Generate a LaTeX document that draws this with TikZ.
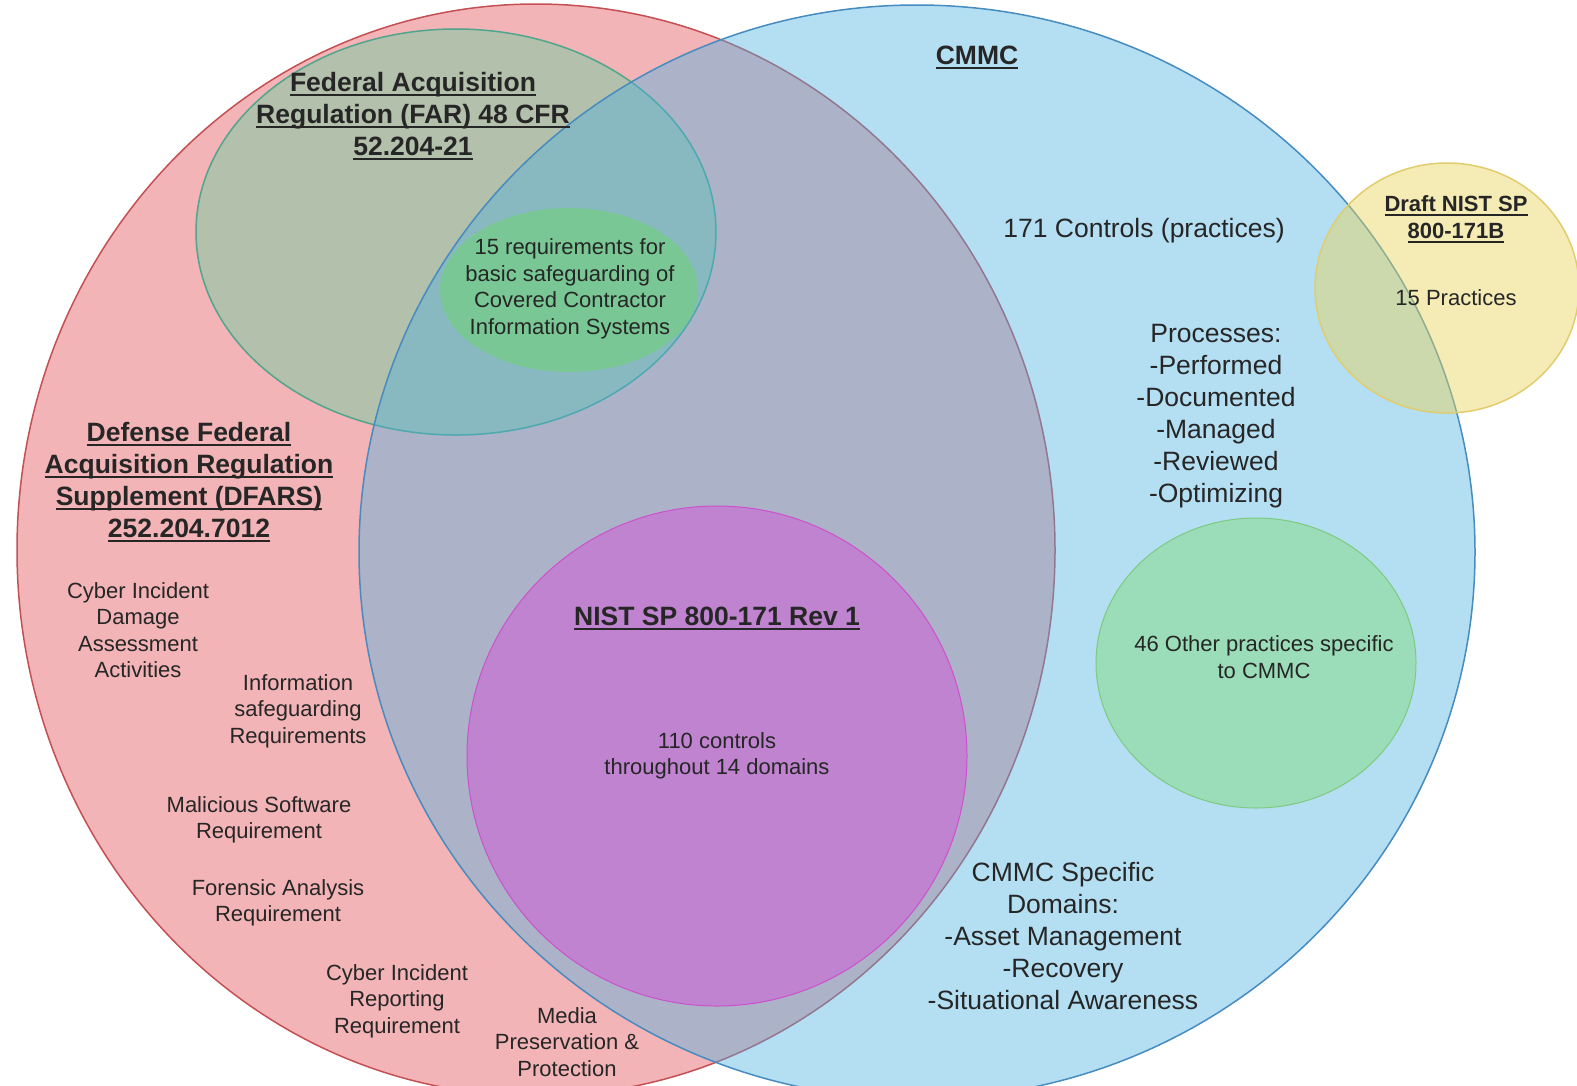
\documentclass[tikz,border=0pt]{standalone}
\usepackage{fontspec}
\setmainfont{Liberation Sans}
\definecolor{dfarsfill}{RGB}{224,76,81}
\definecolor{dfarsline}{RGB}{196,80,84}
\definecolor{cmmcfill}{RGB}{76,176,224}
\definecolor{cmmcline}{RGB}{70,140,192}
\definecolor{farfill}{RGB}{104,207,160}
\definecolor{farline}{RGB}{80,165,140}
\definecolor{reqfill}{RGB}{109,210,121}
\definecolor{nistfill}{RGB}{205,101,213}
\definecolor{nistline}{RGB}{205,80,205}
\definecolor{othfill}{RGB}{138,222,147}
\definecolor{othline}{RGB}{125,203,128}
\definecolor{draftfill}{RGB}{233,211,88}
\definecolor{draftline}{RGB}{225,205,110}
\newcommand{\ulhd}[1]{\setbox0=\hbox{#1}\rlap{\rule[-4.5pt]{\wd0}{1.8pt}}\box0}

\begin{document}
\begin{tikzpicture}[x=1pt,y=-1pt,line width=1.5pt,
        every node/.style={text=black!85,align=center,inner sep=0pt},
        big/.style={font=\fontsize{26.5}{32}\selectfont},
        bighd/.style={font=\fontsize{26.5}{32}\selectfont\bfseries},
        small/.style={font=\fontsize{22}{26.5}\selectfont},
        smallhd/.style={font=\fontsize{22}{27}\selectfont\bfseries}]
    \useasboundingbox (0,0) rectangle (1577,1085);
    \clip (0,0) rectangle (1577,1085);

    \filldraw[draw=dfarsline,fill=dfarsfill,fill opacity=.42] (536,550) ellipse [x radius=519,y radius=546];
    \filldraw[draw=farline,fill=farfill,fill opacity=.45] (456,232) ellipse [x radius=260,y radius=203];
    \filldraw[draw=cmmcline,fill=cmmcfill,fill opacity=.42] (917,552) ellipse [x radius=558,y radius=547];
    \fill[reqfill,fill opacity=.6] (569,290) ellipse [x radius=129,y radius=82];
    \filldraw[draw=nistline,fill=nistfill,fill opacity=.6,line width=1pt] (717,756) circle [radius=250];
    \filldraw[draw=othline,fill=othfill,fill opacity=.6,line width=1pt] (1256,663) ellipse [x radius=160,y radius=145];
    \filldraw[draw=draftline,fill=draftfill,fill opacity=.45] (1447,288) ellipse [x radius=132,y radius=125];

    \node[bighd] (far) at (413,116) {\ulhd{Federal Acquisition}\\\ulhd{Regulation (FAR) 48 CFR}\\\ulhd{52.204-21}};
    \node[small] (basic) at (570,289) {15 requirements for\\basic safeguarding of\\Covered Contractor\\Information Systems};
    \node[bighd] (dfars) at (189,482) {\ulhd{Defense Federal}\\\ulhd{Acquisition Regulation}\\\ulhd{Supplement (DFARS)}\\\ulhd{252.204.7012}};
    \node[small] (damage) at (138,630) {Cyber Incident\\Damage\\Assessment\\Activities};
    \node[small] (infosafe) at (298,711) {Information\\safeguarding\\Requirements};
    \node[small] (malware) at (259,820) {Malicious Software\\Requirement};
    \node[small] (forensic) at (278,903) {Forensic Analysis\\Requirement};
    \node[small] (report) at (397,1001) {Cyber Incident\\Reporting\\Requirement};
    \node[small] (media) at (567,1042) {Media\\Preservation \&\\Protection};

    \node[bighd] (nist) at (717,618) {\ulhd{NIST SP 800-171 Rev 1}};
    \node[small] (ctrl110) at (717,756) {110 controls\\throughout 14 domains};

    \node[bighd] (cmmc) at (977,57) {\ulhd{CMMC}};
    \node[big] (ctrl171) at (1144,231) {171 Controls (practices)};
    \node[big] (proc) at (1216,416) {Processes:\\-Performed\\-Documented\\-Managed\\-Reviewed\\-Optimizing};
    \node[small] (other) at (1264,657) {46 Other practices specific\\to CMMC};
    \node[big] (domains) at (1063,936) {CMMC Specific\\Domains:\\-Asset Management\\-Recovery\\-Situational Awareness};

    \node[smallhd] (draft) at (1456,219) {\ulhd{Draft NIST SP}\\\ulhd{800-171B}};
    \node[small] (prac15) at (1456,298) {15 Practices};
\end{tikzpicture}
\end{document}
